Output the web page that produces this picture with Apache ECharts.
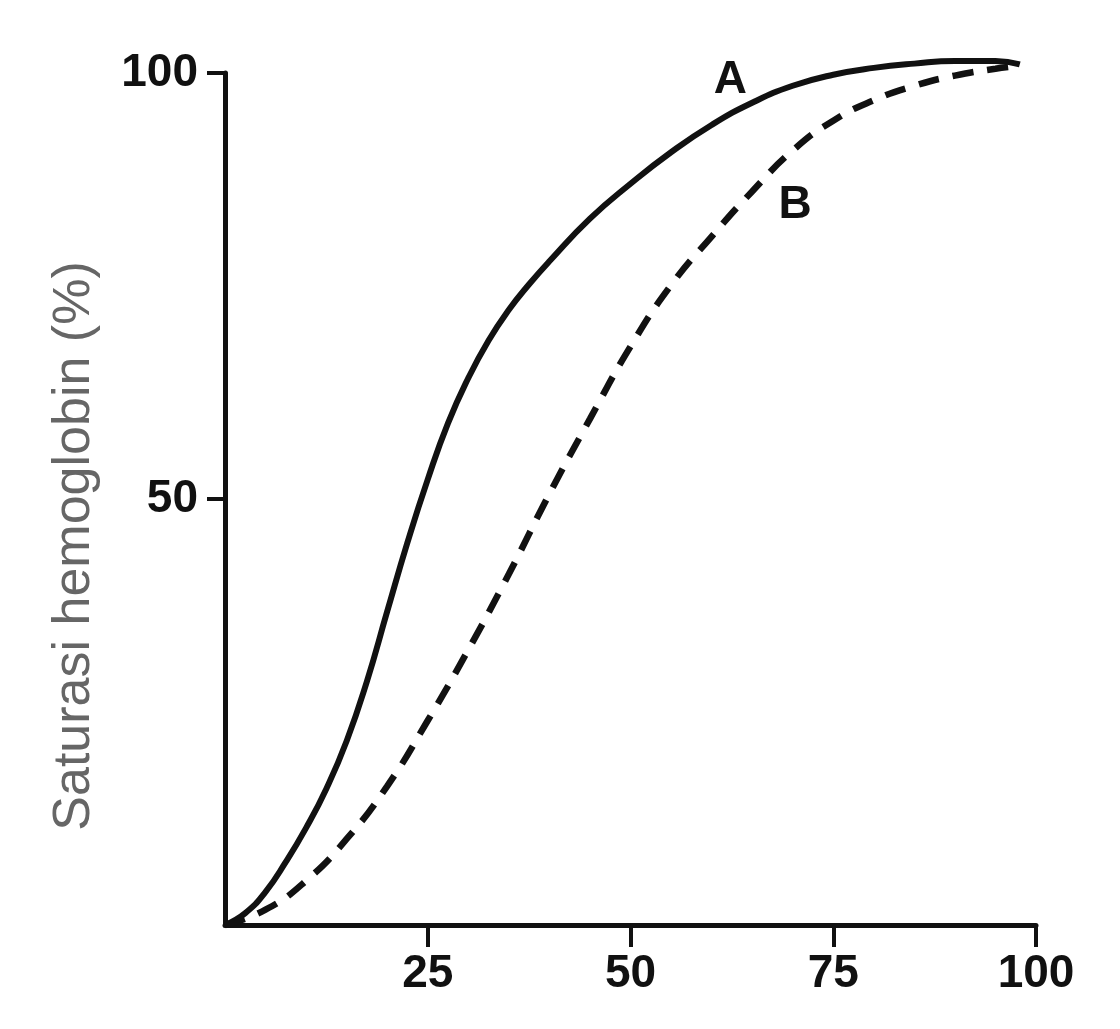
<!DOCTYPE html>
<html>
<head>
<meta charset="utf-8">
<script src="https://cdn.jsdelivr.net/npm/echarts@6/dist/echarts.min.js"></script>
<style>
html,body{margin:0;padding:0;background:#fff;}
#chart{width:1120px;height:1029px;}
</style>
</head>
<body>
<div id="chart"></div>
<script>
// Tick values
const xTickValues = [25, 50, 75, 100];
const yTickValues = [50, 100];
const yAxisTitle = 'Saturasi hemoglobin (%)';

// Curve A (solid)
const curveA = [
  [0,0],[2.5,1.4],[5,3.9],[7.5,7.4],[10,11.4],[12.5,16.0],[15,21.6],[17.5,28.6],
  [20,36.8],[22.5,44.9],[25,52.3],[27.5,58.9],[30,64.2],[32.5,68.6],[35,72.2],
  [37.5,75.2],[40,77.9],[45,82.9],[50,87.0],[55,90.7],[60,93.9],[65,96.5],
  [70,98.5],[75,99.8],[80,100.6],[85,101.1],[90,101.4],[95,101.4],[98,101.0]
];

// Curve B (dashed)
const curveB = [
  [0,0],[5,1.8],[10,5.2],[15,10.1],[20,16.3],[25,24.0],[30,32.3],[35,41.2],
  [40,50.6],[45,59.4],[50,67.9],[55,75.1],[60,80.8],[65,86.1],[70,90.9],
  [75,94.4],[80,96.8],[85,98.5],[90,99.7],[95,100.5],[97.5,100.8]
];

// Curve labels
const labelNames = ['A', 'B'];
const labelPos = [[62.3, 99.2], [70.3, 84.5]];

const FONT = '"Liberation Sans", Arial, Helvetica, sans-serif';
const INK = '#111';

const chart = echarts.init(document.getElementById('chart'), null, {renderer: 'canvas'});
chart.setOption({
  backgroundColor: '#fff',
  animation: false,
  grid: {left: 225, right: 84, top: 73, bottom: 104, containLabel: false},
  xAxis: {
    type: 'value', min: 0, max: 100, interval: 25,
    axisLine: {show: true, onZero: false, lineStyle: {color: INK, width: 5}},
    axisTick: {show: true, customValues: xTickValues, length: 22, lineStyle: {color: INK, width: 4}},
    axisLabel: {show: true, customValues: xTickValues, margin: 26, color: INK, fontSize: 46, fontWeight: 'bold', fontFamily: FONT},
    splitLine: {show: false}
  },
  yAxis: {
    type: 'value', min: 0, max: 100, interval: 50,
    name: yAxisTitle, nameLocation: 'middle', nameGap: 124, nameRotate: 90,
    nameTextStyle: {color: '#666', fontSize: 52, fontFamily: FONT, padding: [0, 94, 0, 0]},
    axisLine: {show: true, onZero: false, lineStyle: {color: INK, width: 5}},
    axisTick: {show: true, customValues: yTickValues, length: 18, lineStyle: {color: INK, width: 4}},
    axisLabel: {show: true, customValues: yTickValues, margin: 27, color: INK, fontSize: 46, fontWeight: 'bold', fontFamily: FONT},
    splitLine: {show: false}
  },
  series: [
    {
      type: 'line', data: curveA, smooth: 0.5, symbol: 'none', clip: false,
      lineStyle: {color: INK, width: 6}
    },
    {
      type: 'line', data: curveB, smooth: 0.5, symbol: 'none', clip: false,
      lineStyle: {color: INK, width: 6.5, type: [21, 14]}
    },
    {
      type: 'scatter', symbolSize: 0, clip: false,
      itemStyle: {opacity: 1},
      data: labelPos.map((p, i) => ({value: p, name: labelNames[i]})),
      label: {show: true, position: 'inside', formatter: '{b}', color: INK, opacity: 1, fontSize: 46, fontWeight: 'bold', fontFamily: FONT}
    }
  ]
});
</script>
</body>
</html>
